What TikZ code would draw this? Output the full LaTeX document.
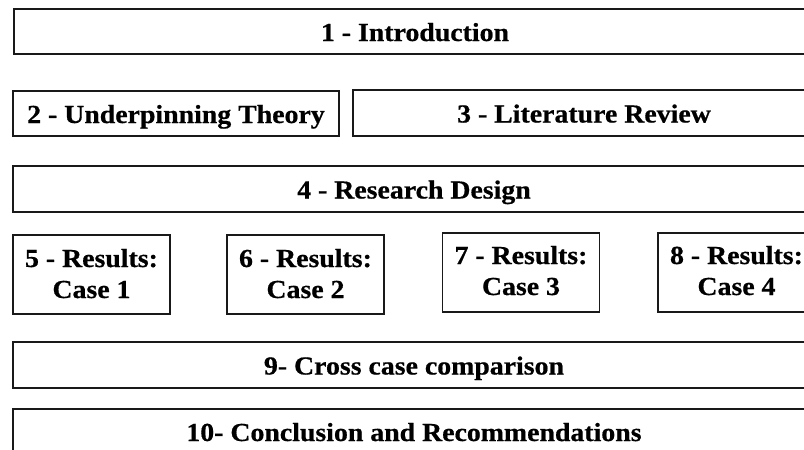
\documentclass[tikz,border=0pt]{standalone}
\usepackage{fontspec}
\setmainfont{Liberation Serif}[FakeStretch=1.07,BoldFeatures={FakeBold=0.6}]
\begin{document}
\begin{tikzpicture}[x=1pt,y=-1pt,
  chapter/.style={draw=black!90,line width=1.6pt,rectangle,inner sep=0pt,
    align=center,font=\fontsize{26}{31}\selectfont\bfseries},
  oneline/.style={chapter,text height=19pt,text depth=0pt},
  wide/.style={oneline,minimum width=802pt,minimum height=45pt},
  casebox/.style={chapter,minimum width=157pt,minimum height=79pt,
    text height=50pt,text depth=3pt},
  casehigh/.style={casebox,text height=48pt}]
  \useasboundingbox (0,0) rectangle (804,450);
  \clip (0,0) rectangle (804,450);
  % front matter
  \node[wide] (intro) at (415,31.5) {1 - Introduction};
  \node[oneline,minimum width=326pt,minimum height=45pt] (theory) at (176,113.5) {2 - Underpinning Theory};
  \node[oneline,minimum width=462pt,minimum height=46pt] (litrev) at (584,113) {3 - Literature Review};
  \node[wide,minimum height=46pt] (design) at (414,189) {4 - Research Design};
  % case results
  \node[casebox] (case1) at (91.5,274.5) {5 - Results:\\Case 1};
  \node[casebox] (case2) at (305.5,274.5) {6 - Results:\\Case 2};
  \node[casehigh] (case3) at (521,272.5) {7 - Results:\\Case 3};
  \node[casehigh] (case4) at (736.5,272.5) {8 - Results:\\Case 4};
  % synthesis
  \node[wide,minimum height=46pt] (cross) at (414,365) {9- Cross case comparison};
  \node[wide] (concl) at (414,431.5) {10- Conclusion and Recommendations};
\end{tikzpicture}
\end{document}
